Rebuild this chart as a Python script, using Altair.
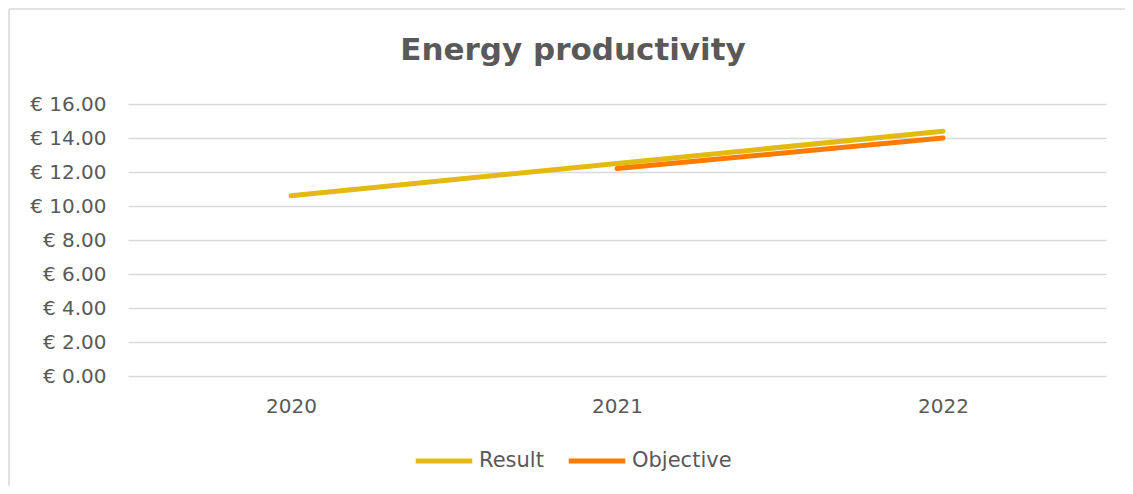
import altair as alt
import pandas as pd

years = ["2020", "2021", "2022"]
result_values = [10.6, 12.5, 14.4]
objective_years = ["2021", "2022"]
objective_values = [12.2, 14.0]
series_names = ["Result", "Objective"]
series_colors = ["#E3B912", "#FF7B00"]
chart_title = "Energy productivity"

rows = [{"year": y, "value": v, "series": "Result"} for y, v in zip(years, result_values)]
rows += [{"year": y, "value": v, "series": "Objective"} for y, v in zip(objective_years, objective_values)]
df = pd.DataFrame(rows)

FONT = "DejaVu Sans"
GREY = "#595959"

frame_data = alt.Data(values=[{}])
top_edge = alt.Chart(frame_data).mark_rule(stroke="#d9d9d9", strokeWidth=1.5).encode(
    x=alt.value(-119), x2=alt.value(1000), y=alt.value(-95)
)
left_edge = alt.Chart(frame_data).mark_rule(stroke="#d9d9d9", strokeWidth=1.5).encode(
    x=alt.value(-119), y=alt.value(-95), y2=alt.value(400)
)

title_mark = alt.Chart(alt.Data(values=[{"t": chart_title}])).mark_text(
    font=FONT, fontSize=31, fontWeight="bold", color=GREY, align="center", baseline="middle"
).encode(
    text="t:N", x=alt.value(445), y=alt.value(-53)
)

lines = alt.Chart(df).mark_line(strokeWidth=5, strokeCap="round").encode(
    x=alt.X("year:O", sort=years, title=None,
            scale=alt.Scale(type="point", padding=0.5),
            axis=alt.Axis(labelAngle=0, domain=False, ticks=False, grid=False,
                          labelPadding=20, labelFontSize=20, labelColor=GREY, labelFont=FONT)),
    y=alt.Y("value:Q", title=None,
            scale=alt.Scale(domain=[0, 16], nice=False),
            axis=alt.Axis(values=[0, 2, 4, 6, 8, 10, 12, 14, 16],
                          labelExpr="'€ ' + format(datum.value, '.2f')",
                          domain=False, ticks=False, gridColor="#d9d9d9", gridWidth=1.5,
                          labelPadding=22, labelFontSize=20, labelColor=GREY, labelFont=FONT)),
    color=alt.Color("series:N", sort=series_names,
                    scale=alt.Scale(domain=series_names, range=series_colors),
                    legend=alt.Legend(title=None, orient="none", direction="horizontal",
                                      legendX=285, legendY=326,
                                      symbolType="stroke", symbolSize=3200, symbolStrokeWidth=5,
                                      labelFontSize=21, labelColor=GREY, labelFont=FONT,
                                      labelOffset=4, columnPadding=14)),
)

chart = alt.layer(top_edge, left_edge, title_mark, lines).properties(
    width=978, height=272,
    autosize=alt.AutoSizeParams(type="none"),
    padding={"left": 120, "top": 96, "right": 19, "bottom": 110},
).configure_view(stroke=None)

chart.save("out.html", embed_options={"renderer": "svg", "actions": False})
